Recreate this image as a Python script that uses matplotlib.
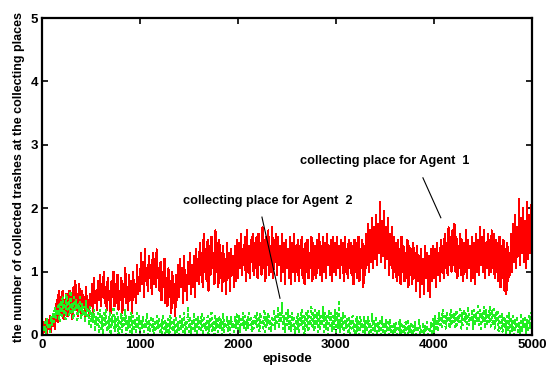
import numpy as np
import matplotlib
matplotlib.use('Agg')
import matplotlib.pyplot as plt

plt.rcParams['font.family'] = ['Liberation Sans', 'DejaVu Sans']
plt.rcParams['font.weight'] = 'bold'

# episode step of the readings
step = 10

# collecting place for Agent 1 (red), one row = 200 episodes
agent1 = [
    0.1, 0.0, 0.2, 0.05, 0.25, 0.0, 0.15, 0.1, 0.3, 0.05, 0.2, 0.15, 0.3, 0.1, 0.25, 0.55, 0.2, 0.7, 0.35, 0.6,
    0.3, 0.7, 0.25, 0.55, 0.4, 0.65, 0.3, 0.5, 0.7, 0.35, 0.6, 0.25, 0.75, 0.45, 0.85, 0.4, 0.65, 0.3, 0.8, 0.5,
    0.35, 0.7, 0.45, 0.6, 0.3, 0.75, 0.4, 0.55, 0.3, 0.65, 0.45, 0.8, 0.35, 0.9, 0.5, 0.7, 0.4, 0.85, 0.55, 0.95,
    0.45, 0.8, 0.6, 1.0, 0.5, 0.75, 0.4, 0.9, 0.55, 0.7, 0.35, 0.85, 0.6, 1.0, 0.45, 0.8, 0.5, 0.95, 0.4, 0.7,
    0.55, 0.9, 0.35, 0.8, 0.6, 1.05, 0.5, 0.75, 0.4, 0.95, 0.55, 0.85, 0.35, 1.0, 0.6, 0.8, 0.5, 1.1, 0.65, 0.9,
    0.7, 1.3, 0.8, 1.15, 0.6, 1.35, 0.85, 1.0, 0.7, 1.25, 0.9, 1.1, 0.65, 1.3, 0.8, 1.2, 0.75, 1.35, 0.9, 1.05,
    0.7, 1.15, 0.55, 1.0, 0.75, 1.2, 0.5, 0.9, 0.45, 1.05, 0.6, 0.85, 0.35, 1.0, 0.5, 0.8, 0.3, 0.95, 0.55, 1.1,
    0.6, 1.2, 0.75, 1.05, 0.5, 1.25, 0.7, 0.95, 0.55, 1.15, 0.8, 1.3, 0.65, 1.1, 0.75, 1.25, 0.6, 1.35, 0.85, 1.2,
    0.8, 1.45, 0.95, 1.3, 0.75, 1.6, 1.0, 1.35, 0.85, 1.5, 0.7, 1.4, 0.95, 1.55, 1.05, 1.3, 0.8, 1.65, 1.0, 1.45,
    0.75, 1.5, 0.9, 1.3, 0.7, 1.4, 0.85, 1.2, 0.65, 1.45, 0.9, 1.3, 0.7, 1.35, 0.95, 1.25, 0.75, 1.4, 0.85, 1.5,
    0.9, 1.45, 1.05, 1.6, 0.95, 1.35, 1.1, 1.55, 0.85, 1.65, 1.0, 1.4, 0.9, 1.5, 1.15, 1.6, 0.95, 1.45, 1.05, 1.55,
    0.9, 1.6, 1.1, 1.45, 0.95, 1.7, 1.05, 1.5, 0.85, 1.55, 1.1, 1.65, 0.95, 1.4, 1.0, 1.7, 0.9, 1.5, 1.15, 1.6,
    0.95, 1.55, 1.1, 1.4, 0.85, 1.6, 1.0, 1.45, 0.8, 1.5, 1.05, 1.35, 0.9, 1.55, 0.8, 1.45, 1.0, 1.6, 0.85, 1.4,
    1.0, 1.5, 0.85, 1.4, 1.05, 1.55, 0.9, 1.35, 0.8, 1.45, 1.0, 1.5, 0.9, 1.3, 1.05, 1.55, 0.85, 1.45, 0.95, 1.4,
    0.9, 1.5, 1.05, 1.6, 0.95, 1.4, 0.85, 1.55, 1.0, 1.45, 0.9, 1.6, 1.1, 1.4, 0.95, 1.5, 0.85, 1.55, 1.0, 1.45,
    0.95, 1.55, 1.05, 1.4, 0.9, 1.5, 1.1, 1.45, 0.85, 1.55, 1.0, 1.35, 0.9, 1.5, 1.05, 1.45, 0.95, 1.4, 0.8, 1.5,
    1.0, 1.45, 0.9, 1.55, 0.85, 1.35, 1.05, 1.5, 0.75, 1.4, 0.95, 1.6, 1.1, 1.75, 1.0, 1.65, 1.15, 1.85, 1.05, 1.7,
    1.2, 1.9, 1.1, 1.75, 1.3, 2.1, 1.15, 1.8, 1.25, 1.95, 1.05, 1.7, 1.2, 1.85, 0.95, 1.6, 1.1, 1.7, 0.9, 1.55,
    1.0, 1.45, 0.85, 1.5, 0.95, 1.35, 0.8, 1.55, 1.0, 1.4, 0.85, 1.3, 0.9, 1.5, 0.75, 1.4, 0.95, 1.35, 0.8, 1.45,
    0.9, 1.3, 0.7, 1.4, 0.85, 1.25, 0.6, 1.35, 0.8, 1.2, 0.65, 1.4, 0.9, 1.3, 0.7, 1.25, 0.6, 1.35, 0.85, 1.4,
    0.9, 1.35, 0.75, 1.45, 0.95, 1.3, 0.85, 1.5, 1.0, 1.4, 0.9, 1.6, 1.05, 1.45, 0.95, 1.7, 1.1, 1.55, 1.0, 1.65,
    1.1, 1.75, 1.0, 1.55, 0.9, 1.4, 1.05, 1.6, 0.95, 1.5, 0.85, 1.45, 1.0, 1.65, 0.9, 1.5, 1.05, 1.4, 0.85, 1.55,
    0.9, 1.45, 0.8, 1.6, 1.0, 1.5, 0.95, 1.7, 1.1, 1.55, 1.0, 1.65, 0.9, 1.45, 1.05, 1.6, 0.95, 1.5, 1.0, 1.65,
    1.05, 1.6, 0.9, 1.5, 1.0, 1.45, 0.85, 1.55, 0.75, 1.4, 0.9, 1.5, 0.7, 1.35, 0.65, 1.45, 0.85, 1.3, 0.95, 1.6,
    1.0, 1.75, 1.15, 1.9, 1.05, 1.7, 1.25, 2.15, 1.1, 1.85, 1.3, 2.0, 1.15, 1.8, 1.05, 2.1, 1.2, 1.9, 1.3, 2.05,
]

# collecting place for Agent 2 (green)
agent2 = [
    0.0, 0.15, 0.05, 0.2, 0.0, 0.25, 0.1, 0.15, 0.05, 0.3, 0.15, 0.35, 0.2, 0.45, 0.25, 0.4, 0.3, 0.5, 0.2, 0.55,
    0.3, 0.6, 0.35, 0.5, 0.25, 0.65, 0.4, 0.55, 0.3, 0.7, 0.35, 0.5, 0.25, 0.6, 0.4, 0.55, 0.2, 0.5, 0.35, 0.6,
    0.25, 0.5, 0.3, 0.45, 0.2, 0.55, 0.3, 0.4, 0.15, 0.45, 0.1, 0.35, 0.2, 0.4, 0.05, 0.3, 0.15, 0.35, 0.05, 0.4,
    0.1, 0.3, 0.0, 0.35, 0.15, 0.4, 0.05, 0.25, 0.1, 0.35, 0.0, 0.3, 0.15, 0.45, 0.05, 0.3, 0.1, 0.35, 0.0, 0.25,
    0.1, 0.35, 0.05, 0.3, 0.15, 0.4, 0.0, 0.25, 0.1, 0.3, 0.05, 0.35, 0.0, 0.3, 0.1, 0.25, 0.05, 0.35, 0.1, 0.3,
    0.0, 0.25, 0.1, 0.3, 0.05, 0.2, 0.1, 0.35, 0.0, 0.25, 0.05, 0.3, 0.1, 0.25, 0.0, 0.2, 0.05, 0.3, 0.1, 0.25,
    0.05, 0.2, 0.0, 0.3, 0.1, 0.25, 0.0, 0.2, 0.05, 0.25, 0.0, 0.3, 0.1, 0.2, 0.05, 0.25, 0.0, 0.3, 0.05, 0.2,
    0.0, 0.3, 0.1, 0.25, 0.05, 0.35, 0.0, 0.2, 0.1, 0.45, 0.05, 0.3, 0.0, 0.25, 0.1, 0.35, 0.05, 0.25, 0.0, 0.3,
    0.1, 0.25, 0.05, 0.35, 0.0, 0.3, 0.1, 0.2, 0.05, 0.3, 0.0, 0.25, 0.1, 0.35, 0.05, 0.2, 0.0, 0.3, 0.1, 0.25,
    0.05, 0.3, 0.1, 0.25, 0.0, 0.35, 0.05, 0.2, 0.1, 0.3, 0.05, 0.25, 0.0, 0.3, 0.1, 0.2, 0.05, 0.3, 0.1, 0.35,
    0.1, 0.3, 0.05, 0.25, 0.15, 0.35, 0.1, 0.3, 0.05, 0.25, 0.1, 0.35, 0.15, 0.3, 0.05, 0.25, 0.1, 0.3, 0.15, 0.35,
    0.1, 0.3, 0.05, 0.35, 0.15, 0.25, 0.1, 0.4, 0.05, 0.3, 0.15, 0.35, 0.1, 0.25, 0.05, 0.3, 0.15, 0.4, 0.1, 0.3,
    0.15, 0.45, 0.1, 0.35, 0.2, 0.5, 0.1, 0.3, 0.05, 0.35, 0.15, 0.4, 0.1, 0.3, 0.05, 0.35, 0.1, 0.3, 0.0, 0.25,
    0.1, 0.35, 0.05, 0.3, 0.15, 0.4, 0.1, 0.3, 0.0, 0.35, 0.1, 0.4, 0.05, 0.3, 0.15, 0.45, 0.1, 0.35, 0.05, 0.4,
    0.15, 0.35, 0.05, 0.4, 0.1, 0.3, 0.15, 0.45, 0.05, 0.35, 0.1, 0.3, 0.0, 0.4, 0.1, 0.35, 0.05, 0.3, 0.1, 0.4,
    0.05, 0.35, 0.1, 0.55, 0.05, 0.3, 0.1, 0.35, 0.0, 0.3, 0.1, 0.25, 0.05, 0.3, 0.0, 0.25, 0.1, 0.3, 0.05, 0.2,
    0.0, 0.3, 0.05, 0.25, 0.0, 0.3, 0.1, 0.2, 0.05, 0.3, 0.0, 0.25, 0.05, 0.3, 0.0, 0.2, 0.05, 0.35, 0.0, 0.25,
    0.05, 0.3, 0.0, 0.2, 0.05, 0.25, 0.0, 0.3, 0.05, 0.2, 0.0, 0.25, 0.05, 0.2, 0.0, 0.25, 0.05, 0.15, 0.0, 0.2,
    0.05, 0.2, 0.0, 0.15, 0.05, 0.25, 0.0, 0.2, 0.05, 0.15, 0.0, 0.2, 0.05, 0.25, 0.0, 0.15, 0.05, 0.2, 0.0, 0.15,
    0.05, 0.2, 0.0, 0.15, 0.05, 0.25, 0.0, 0.1, 0.05, 0.2, 0.0, 0.15, 0.05, 0.2, 0.0, 0.1, 0.05, 0.2, 0.0, 0.25,
    0.05, 0.3, 0.1, 0.25, 0.05, 0.35, 0.15, 0.3, 0.1, 0.4, 0.15, 0.3, 0.1, 0.35, 0.2, 0.3, 0.1, 0.4, 0.15, 0.35,
    0.2, 0.35, 0.1, 0.4, 0.15, 0.3, 0.2, 0.45, 0.1, 0.35, 0.15, 0.4, 0.2, 0.35, 0.1, 0.45, 0.15, 0.3, 0.2, 0.4,
    0.1, 0.4, 0.15, 0.35, 0.2, 0.5, 0.15, 0.4, 0.1, 0.35, 0.2, 0.45, 0.1, 0.4, 0.15, 0.35, 0.2, 0.45, 0.1, 0.4,
    0.15, 0.45, 0.1, 0.35, 0.2, 0.4, 0.05, 0.3, 0.1, 0.35, 0.05, 0.3, 0.1, 0.25, 0.0, 0.3, 0.05, 0.35, 0.0, 0.25,
    0.05, 0.3, 0.0, 0.25, 0.1, 0.3, 0.05, 0.2, 0.0, 0.35, 0.05, 0.25, 0.1, 0.3, 0.0, 0.25, 0.05, 0.3, 0.1, 0.35,
]

episodes = np.arange(len(agent1)) * step

xticks = [0, 1000, 2000, 3000, 4000, 5000]
yticks = [0, 1, 2, 3, 4, 5]

fig = plt.figure(figsize=(5.5, 3.7), dpi=100)
ax = fig.add_axes([0.0764, 0.0946, 0.8906, 0.8565])

ax.plot(episodes, agent1, color='#ff0000', linewidth=0.8, antialiased=False)
ax.plot(episodes, agent2, color='#22ee22', linewidth=0.8, dashes=(2, 3),
        antialiased=False)

# labels with pointer lines
ax.text(2633, 2.74, 'collecting place for Agent  1', fontsize=9.2,
        fontweight='bold', va='center', ha='left')
ax.plot([3888, 4071], [2.48, 1.85], color='black', linewidth=0.8)
ax.text(1439, 2.11, 'collecting place for Agent  2', fontsize=9.2,
        fontweight='bold', va='center', ha='left')
ax.plot([2245, 2429], [1.86, 0.58], color='black', linewidth=0.8)

ax.set_xlim(0, 5000)
ax.set_ylim(0, 5)
ax.set_xticks(xticks)
ax.set_yticks(yticks)
ax.tick_params(direction='in', top=True, right=True, length=4, width=1.2,
               labelsize=9.5, pad=3)
for lab in ax.get_xticklabels() + ax.get_yticklabels():
    lab.set_fontweight('bold')
for sp in ax.spines.values():
    sp.set_linewidth(1.6)

ax.set_xlabel('episode', fontsize=9.5, fontweight='bold', labelpad=1)
ax.set_ylabel('the number of collected trashes at the collecting places',
              fontsize=9, fontweight='bold', labelpad=4)

fig.savefig('out.png', dpi=100)
